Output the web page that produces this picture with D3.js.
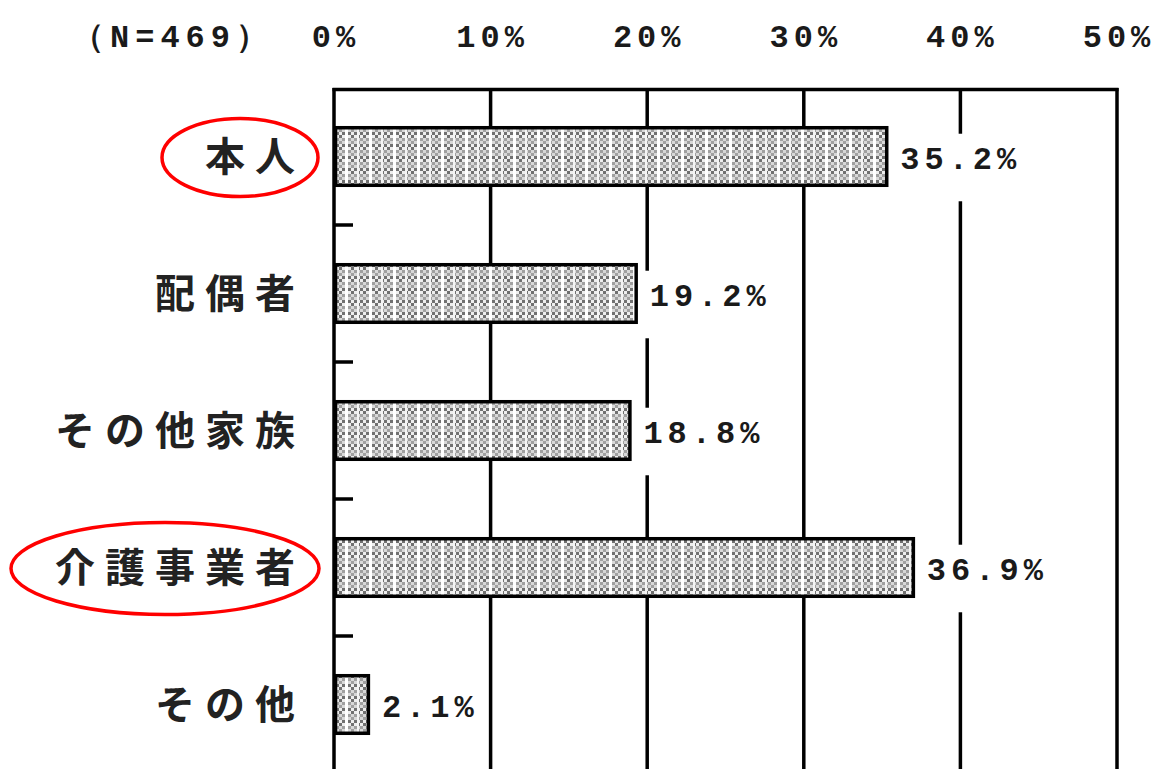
<!DOCTYPE html>
<html><head><meta charset="utf-8">
<script src="https://cdn.jsdelivr.net/npm/d3@7"></script>
<style>
html,body{margin:0;padding:0;background:#fff;}
svg{display:block;}
</style></head>
<body>
<svg id="c" width="1161" height="769"></svg>
<script>
const categories = ["本人","配偶者","その他家族","介護事業者","その他"];
const values = [35.2, 19.2, 18.8, 36.9, 2.1];
const valueLabels = ["35.2%","19.2%","18.8%","36.9%","2.1%"];
const tickValues = [0,10,20,30,40,50];
const tickLabels = ["0%","10%","20%","30%","40%","50%"];
const sampleLabel = "（N=469）";
const circled = ["本人","介護事業者"];

const svg = d3.select("#c");
const x = d3.scaleLinear().domain([0,50]).range([334,1117]);
const y = d3.scaleBand().domain(categories).range([88,773]).paddingInner(0.58).paddingOuter(0.29);

// pattern
const defs = svg.append("defs");
const pat = defs.append("pattern").attr("id","pat").attr("patternUnits","userSpaceOnUse")
  .attr("width",24).attr("height",12).attr("x",0).attr("y",0);
pat.append("rect").attr("width",24).attr("height",12).attr("fill","#cfcfcf");
const cells = [];
for (let cy=0; cy<4; cy++) for (let cx=0; cx<8; cx++) cells.push([cx,cy]);
pat.selectAll("rect.c").data(cells).join("rect").attr("class","c")
  .attr("x",d=>d[0]*3).attr("y",d=>d[1]*3).attr("width",3).attr("height",3)
  .attr("fill",d=> (d[0]+d[1])%2===0 ? (d[1]<2?"#707070":"#a0a0a0") : (d[1]<2?"#eeeeee":"#d8d8d8"));
pat.append("rect").attr("x",9).attr("y",0).attr("width",3).attr("height",12).attr("fill","#ffffff");
pat.append("rect").attr("x",21).attr("y",0).attr("width",2).attr("height",12).attr("fill","#f4f4f4");

const step = y.step();

// gridlines
svg.append("g").selectAll("line").data(tickValues.slice(1)).join("line")
  .attr("x1",d=>x(d)).attr("x2",d=>x(d)).attr("y1",88).attr("y2",780)
  .attr("stroke","#000").attr("stroke-width",3.5);
// top border
svg.append("line").attr("x1",x(0)-1.5).attr("x2",x(50)+1.5).attr("y1",89.5).attr("y2",89.5)
  .attr("stroke","#000").attr("stroke-width",3.5);
// left axis
svg.append("line").attr("x1",x(0)).attr("x2",x(0)).attr("y1",88).attr("y2",780)
  .attr("stroke","#000").attr("stroke-width",3.5);
// category separator ticks
svg.append("g").selectAll("line").data(categories.slice(1)).join("line")
  .attr("x1",x(0)).attr("x2",x(0)+19)
  .attr("y1",d=>y(d)-(step-y.bandwidth())/2).attr("y2",d=>y(d)-(step-y.bandwidth())/2)
  .attr("stroke","#000").attr("stroke-width",3.5);

const monoFont = "'Liberation Mono', 'DejaVu Sans Mono', monospace";
// value labels with white backing (drawn before bars so bar outline stays on top)
const vg = svg.append("g").selectAll("g").data(values).join("g");
vg.append("rect").attr("class","bg").attr("fill","#fff");
vg.append("text")
  .attr("x",d=>x(d)+15).attr("y",(d,i)=>y(categories[i])+y.bandwidth()/2+12)
  .attr("font-family",monoFont).attr("font-size",32).attr("letter-spacing",5)
  .attr("font-weight","bold").attr("fill","#1a1a1a")
  .text((d,i)=>valueLabels[i]);
vg.each(function(d,i){
  const g = d3.select(this);
  const bb = g.select("text").node().getBBox();
  const left = x(d)+2;
  g.select("rect.bg").attr("x",left).attr("y",y(categories[i])+6)
    .attr("width",bb.x+bb.width+2-left).attr("height",y.bandwidth()+10);
});

// bars
svg.append("g").selectAll("rect").data(values).join("rect")
  .attr("x",x(0)+1.5).attr("y",(d,i)=>y(categories[i]))
  .attr("width",d=>x(d)-x(0)).attr("height",y.bandwidth())
  .attr("fill","url(#pat)").attr("stroke","#000").attr("stroke-width",3.5);

// tick labels
svg.append("g").selectAll("text").data(tickValues).join("text")
  .attr("x",d=>x(d)+2).attr("y",47).attr("text-anchor","middle")
  .attr("font-family",monoFont).attr("font-size",32).attr("letter-spacing",5)
  .attr("font-weight","bold").attr("fill","#1a1a1a")
  .text((d,i)=>tickLabels[i]);

svg.append("text").attr("x",72).attr("y",47)
  .attr("font-family",monoFont).attr("font-size",32).attr("letter-spacing",6)
  .attr("font-weight","bold").attr("fill","#1a1a1a").text(sampleLabel);

// category labels
svg.append("g").selectAll("text").data(categories).join("text")
  .attr("x",305).attr("y",d=>y(d)+y.bandwidth()/2+14).attr("text-anchor","end")
  .attr("font-family","'Noto Sans CJK JP', sans-serif").attr("font-size",40)
  .attr("font-weight","bold").attr("letter-spacing",10).attr("fill","#222")
  .text(d=>d);

// red ellipses
const ellipseSpec = {"本人":{cx:240,rx:78,ry:39},"介護事業者":{cx:165,rx:154,ry:46}};
svg.append("g").selectAll("ellipse").data(circled).join("ellipse")
  .attr("cx",d=>ellipseSpec[d].cx).attr("cy",d=>y(d)+y.bandwidth()/2+1)
  .attr("rx",d=>ellipseSpec[d].rx).attr("ry",d=>ellipseSpec[d].ry)
  .attr("fill","none").attr("stroke","#ff0000").attr("stroke-width",3.5);
</script>
</body></html>
